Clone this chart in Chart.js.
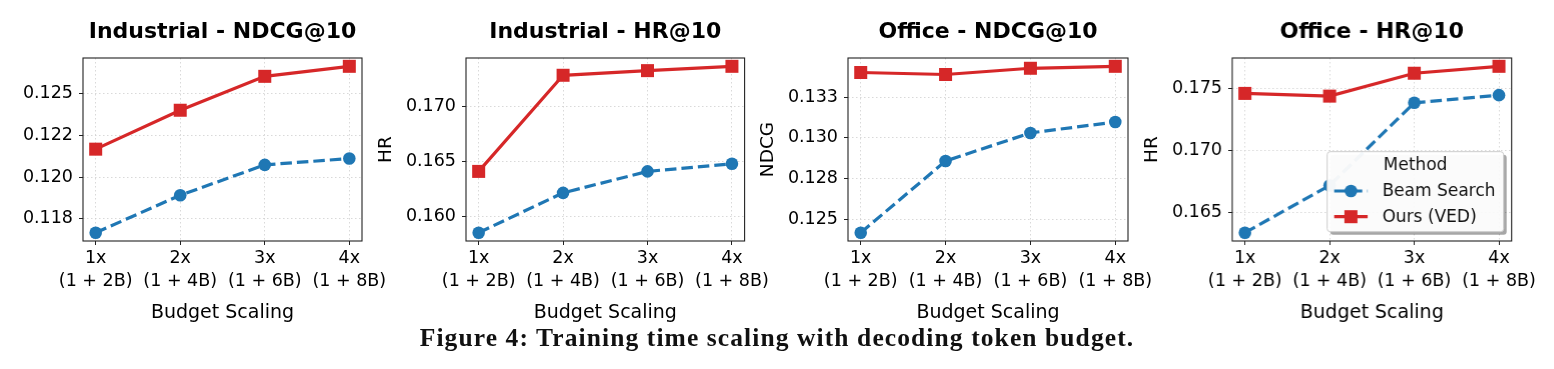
<!DOCTYPE html>
<html lang="en">

<head>
    <meta charset="UTF-8">
    <title>Training time scaling with decoding token budget</title>
    <script src="https://cdn.jsdelivr.net/npm/chart.js"></script>
    <style>
        body {
            margin: 0;
            width: 1554px;
            height: 369px;
            overflow: hidden;
            background: #fff;
            position: relative;
        }

        .panel {
            position: absolute;
            top: 0;
            height: 330px;
        }

        #caption {
            position: absolute;
            left: 0;
            top: 325px;
            width: 1554px;
            text-align: center;
            font: bold 25.5px/26px 'Liberation Serif', serif;
            letter-spacing: 1.1px;
            color: #111;
        }
    </style>
</head>

<body>
    <div class="panel" id="p0"><canvas id="c0"></canvas></div>
    <div class="panel" id="p1"><canvas id="c1"></canvas></div>
    <div class="panel" id="p2"><canvas id="c2"></canvas></div>
    <div class="panel" id="p3"><canvas id="c3"></canvas></div>
    <div id="caption">Figure 4: Training time scaling with decoding token budget.</div>

    <script>
        // x categories
        const budgetLabels = [['1x', '(1 + 2B)'], ['2x', '(1 + 4B)'], ['3x', '(1 + 6B)'], ['4x', '(1 + 8B)']];
        const seriesNames = ['Beam Search', 'Ours (VED)'];

        // Industrial
        const indNdcgBeam = [0.11667, 0.11891, 0.12073, 0.12111];
        const indNdcgVed = [0.12167, 0.12400, 0.12603, 0.12663];
        const indHrBeam = [0.15856, 0.16216, 0.16410, 0.16479];
        const indHrVed = [0.16410, 0.17279, 0.17321, 0.17360];
        // Office
        const offNdcgBeam = [0.12419, 0.12858, 0.13030, 0.13097];
        const offNdcgVed = [0.13400, 0.13388, 0.13426, 0.13438];
        const offHrBeam = [0.16334, 0.16716, 0.17384, 0.17446];
        const offHrVed = [0.17460, 0.17438, 0.17623, 0.17679];

        // y ticks
        const indNdcgTicks = [0.1175, 0.1200, 0.1225, 0.1250];
        const indNdcgTickLabels = ['0.118', '0.120', '0.122', '0.125'];
        const indHrTicks = [0.160, 0.165, 0.170];
        const indHrTickLabels = ['0.160', '0.165', '0.170'];
        const offNdcgTicks = [0.1250, 0.1275, 0.1300, 0.1325];
        const offNdcgTickLabels = ['0.125', '0.128', '0.130', '0.133'];
        const offHrTicks = [0.165, 0.170, 0.175];
        const offHrTickLabels = ['0.165', '0.170', '0.175'];

        const panels = [
            { title: 'Industrial - NDCG@10', yTitle: '', beam: indNdcgBeam, ved: indNdcgVed, ticks: indNdcgTicks, tickLabels: indNdcgTickLabels },
            { title: 'Industrial - HR@10', yTitle: 'HR', beam: indHrBeam, ved: indHrVed, ticks: indHrTicks, tickLabels: indHrTickLabels },
            { title: 'Office - NDCG@10', yTitle: 'NDCG', beam: offNdcgBeam, ved: offNdcgVed, ticks: offNdcgTicks, tickLabels: offNdcgTickLabels },
            { title: 'Office - HR@10', yTitle: 'HR', beam: offHrBeam, ved: offHrVed, ticks: offHrTicks, tickLabels: offHrTickLabels, legend: true }
        ];

        // layout of the four canvases (plot left edge minus y-axis width)
        const panelLeft = [-7.3, 375.7, 758.3, 1142.3];
        const plotWidth = [279, 278.6, 280, 278.7];

        const BLUE = '#1f77b4';
        const RED = '#d62728';

        Chart.defaults.font.family = "'DejaVu Sans', sans-serif";
        Chart.defaults.color = '#111';
        Chart.defaults.animation = false;

        // full box round the plot area
        const frame = {
            id: 'frame',
            afterDatasetsDraw(chart) {
                const { ctx, chartArea: a } = chart;
                ctx.save();
                ctx.strokeStyle = '#222';
                ctx.lineWidth = 1.1;
                ctx.strokeRect(a.left, a.top, a.right - a.left, a.bottom - a.top);
                ctx.restore();
            }
        };

        function marker(ctx, style, x, y, r, color) {
            ctx.fillStyle = color;
            ctx.beginPath();
            if (style === 'rect') {
                const s = r * Math.SQRT1_2;
                ctx.rect(x - s, y - s, 2 * s, 2 * s);
            } else {
                ctx.arc(x, y, r, 0, Math.PI * 2);
            }
            ctx.fill();
        }

        // matplotlib-like legend box in the lower right corner
        const methodLegend = {
            id: 'methodLegend',
            defaults: { display: false },
            afterDraw(chart, args, opts) {
                if (!opts.display) return;
                const { ctx, chartArea: a } = chart;
                const w = 176, h = 80;
                const x = a.right - 8 - w, y = a.bottom - 9.3 - h;
                ctx.save();
                const box = (ox, oy) => {
                    ctx.beginPath();
                    ctx.roundRect(x + ox, y + oy, w, h, 3);
                };
                box(3, 3);
                ctx.fillStyle = 'rgba(0,0,0,0.35)';
                ctx.fill();
                box(0, 0);
                ctx.fillStyle = 'rgba(255,255,255,0.95)';
                ctx.fill();
                ctx.strokeStyle = '#cccccc';
                ctx.lineWidth = 1;
                ctx.stroke();

                ctx.font = "17px 'DejaVu Sans'";
                ctx.fillStyle = '#111';
                ctx.textBaseline = 'middle';
                ctx.textAlign = 'center';
                ctx.fillText('Method', x + w / 2, y + 14);
                ctx.textAlign = 'left';
                chart.data.datasets.forEach((ds, i) => {
                    const yy = y + 39.3 + i * 25.7;
                    ctx.strokeStyle = ds.borderColor;
                    ctx.lineWidth = ds.borderWidth;
                    ctx.setLineDash(ds.borderDash || []);
                    ctx.beginPath();
                    ctx.moveTo(x + 7, yy);
                    ctx.lineTo(x + 40.4, yy);
                    ctx.stroke();
                    ctx.setLineDash([]);
                    marker(ctx, ds.pointStyle, x + 23.7, yy, ds.pointRadius, ds.backgroundColor);
                    ctx.fillStyle = '#111';
                    ctx.fillText(ds.label, x + 55, yy + 0.5);
                });
                ctx.restore();
            }
        };

        function dataRange(a, b) {
            const all = a.concat(b);
            const lo = Math.min(...all), hi = Math.max(...all);
            const m = (hi - lo) * 0.05;
            return [lo - m, hi + m];
        }

        panels.forEach((p, i) => {
            const wrap = document.getElementById('p' + i);
            wrap.style.left = panelLeft[i] + 'px';
            wrap.style.width = (plotWidth[i] + 130) + 'px';
            const [ymin, ymax] = dataRange(p.beam, p.ved);

            new Chart(document.getElementById('c' + i), {
                type: 'line',
                data: {
                    datasets: [{
                        label: seriesNames[0],
                        data: p.beam.map((v, k) => ({ x: k, y: v })),
                        borderColor: BLUE,
                        backgroundColor: BLUE,
                        borderWidth: 3.2,
                        borderDash: [11.5, 5],
                        pointStyle: 'circle',
                        pointRadius: 6.3,
                        pointBorderWidth: 0,
                        tension: 0,
                        clip: false
                    }, {
                        label: seriesNames[1],
                        data: p.ved.map((v, k) => ({ x: k, y: v })),
                        borderColor: RED,
                        backgroundColor: RED,
                        borderWidth: 3.2,
                        pointStyle: 'rect',
                        pointRadius: 9.2,
                        pointBorderWidth: 0,
                        tension: 0,
                        clip: false
                    }]
                },
                options: {
                    responsive: true,
                    maintainAspectRatio: false,
                    layout: { padding: { left: 0, right: 40, top: 0, bottom: 0 } },
                    plugins: {
                        legend: { display: false },
                        tooltip: { enabled: false },
                        title: {
                            display: true,
                            text: p.title,
                            fullSize: false,
                            font: { size: 22, weight: 'bold' },
                            color: '#000',
                            padding: { top: 19, bottom: 12.6 }
                        },
                        methodLegend: { display: !!p.legend }
                    },
                    scales: {
                        x: {
                            type: 'linear',
                            min: -0.15,
                            max: budgetLabels.length - 1 + 0.15,
                            afterBuildTicks: s => { s.ticks = budgetLabels.map((_, k) => ({ value: k })); },
                            afterFit: s => { s.height = 89; },
                            ticks: {
                                autoSkip: false,
                                maxRotation: 0,
                                padding: 2,
                                color: '#000',
                                font: { size: 17.5, lineHeight: 1.31 },
                                callback: v => budgetLabels[v]
                            },
                            grid: {
                                color: '#cfcfcf',
                                lineWidth: 0.8,
                                tickLength: 4,
                                tickColor: '#222',
                                tickWidth: 1
                            },
                            border: { display: false, dash: [1.5, 2.5] },
                            title: {
                                display: true,
                                text: 'Budget Scaling',
                                color: '#000',
                                font: { size: 19 },
                                padding: { top: 0, bottom: 6 }
                            }
                        },
                        y: {
                            min: ymin,
                            max: ymax,
                            afterBuildTicks: s => { s.ticks = p.ticks.map(v => ({ value: v })); },
                            afterFit: s => { s.width = 90; },
                            ticks: {
                                padding: 6,
                                color: '#000',
                                font: { size: 17.5 },
                                callback: (v, k) => p.tickLabels[k]
                            },
                            grid: {
                                color: '#cfcfcf',
                                lineWidth: 0.8,
                                tickLength: 4,
                                tickColor: '#222',
                                tickWidth: 1
                            },
                            border: { display: false, dash: [1.5, 2.5] },
                            title: {
                                display: p.yTitle !== '',
                                text: p.yTitle,
                                color: '#000',
                                font: { size: 18.5 },
                                padding: { top: -1, bottom: 0 }
                            }
                        }
                    }
                },
                plugins: [frame, methodLegend]
            });
        });
    </script>
</body>

</html>
